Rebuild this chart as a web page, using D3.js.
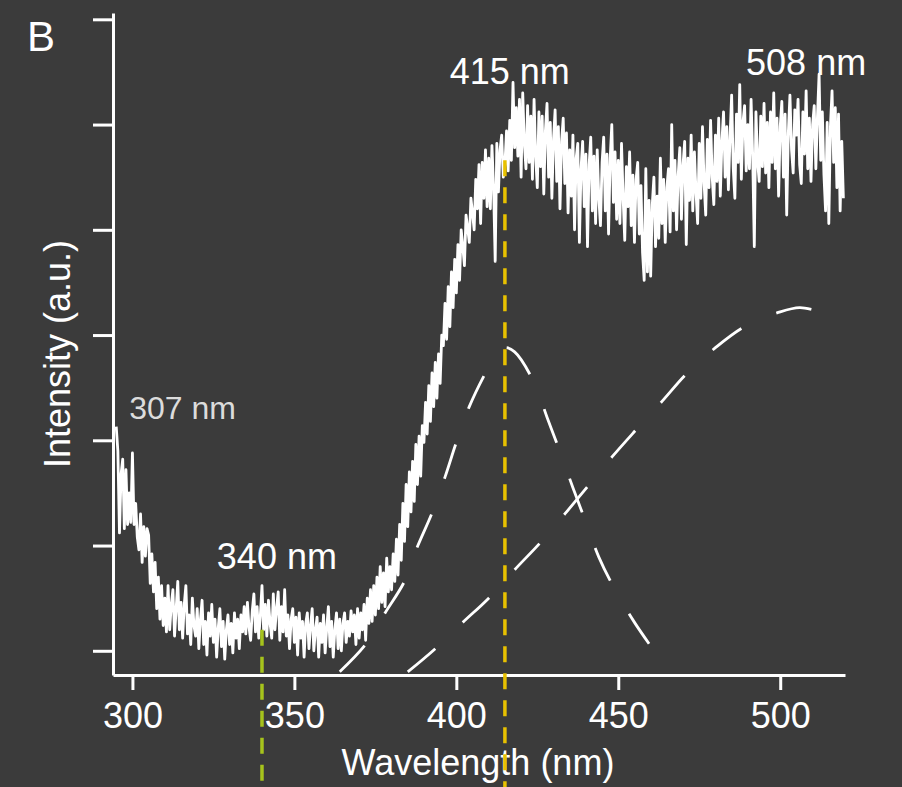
<!DOCTYPE html>
<html>
<head>
  <meta charset="utf-8">
  <title>Spectrum B</title>
  <script src="https://d3js.org/d3.v7.min.js"></script>
  <style>
    body { margin: 0; background: #3b3b3b; }
    text { font-family: "Liberation Sans", Arial, sans-serif; fill: #fff; }
    .axis path, .axis line { stroke: #fff; stroke-width: 3; }
  </style>
</head>
<body>
<script>
// spectrum sampled every 0.5 nm from 295 nm (intensity in a.u., tick = 100)
var startNm = 295;
var stepNm = 0.5;
var intensity = [
  213,190,112,168,182,116,172,120,150,122,
  188,120,140,108,96,130,84,118,90,116,
  110,64,92,56,84,40,70,30,62,24,
  50,18,62,20,44,58,14,40,66,20,
  46,12,44,62,16,34,6,50,24,14,
  40,2,30,48,6,28,-4,36,14,44,
  8,30,-6,22,40,4,28,-8,20,34,
  6,26,-2,36,12,30,2,34,18,42,
  16,46,22,10,38,54,18,42,12,34,
  62,20,44,14,48,26,12,54,20,40,
  56,10,42,18,58,14,34,2,30,40,
  8,32,-4,36,12,28,-6,26,36,2,
  24,40,0,20,32,-6,26,8,34,-2,
  22,42,4,28,-6,20,36,2,30,0,
  26,36,8,28,14,38,18,34,6,40,
  12,36,20,44,10,50,26,58,28,62,
  34,70,40,80,46,74,42,88,56,80,
  58,92,66,106,72,120,86,140,104,158,
  118,170,132,180,142,196,158,204,166,214,
  198,236,206,252,218,264,232,274,240,282,
  254,300,290,330,296,346,308,360,326,372,
  340,386,352,400,384,366,414,402,388,430,
  416,400,448,420,462,406,464,430,476,422,
  468,420,480,440,370,482,436,476,490,450,
  462,494,456,504,466,540,478,516,470,524,
  450,530,482,458,518,464,508,448,524,470,
  440,512,460,508,434,494,520,450,502,430,
  486,514,446,498,420,484,506,444,492,416,
  476,432,490,400,468,482,388,458,484,422,
  472,384,462,488,418,470,406,476,430,404,
  464,488,418,472,396,468,500,426,474,410,
  466,406,482,430,390,460,422,474,404,452,
  388,448,464,396,442,378,352,458,360,428,
  356,424,450,384,432,392,468,406,448,388,
  440,458,398,500,418,466,400,452,478,410,
  462,484,386,468,428,490,418,474,436,406,
  482,430,498,444,414,486,440,504,450,424,
  490,446,506,432,484,512,450,498,438,488,
  528,458,430,510,464,538,448,502,518,456,
  500,458,524,470,384,512,466,446,508,460,
  520,454,502,440,512,464,530,458,506,432,
  498,522,450,510,414,492,528,476,454,514,
  490,524,462,444,512,472,532,458,506,446,
  500,518,458,508,548,466,512,452,418,502,
  406,498,532,464,516,440,510,418,484,430
];

// fitted gaussian components [nm, intensity]
var fit415 = [[364,-20],[372,6],[378,36],[384,66],[388,99],[392.5,131],[396.5,165],
  [400,198],[404,232],[409,264],[412,280],[415,288],[418,284],[424,255],[428,222],
  [432,189],[436,155],[440,122],[444,89],[449,58],[455,27],[461.5,-2]];
var fit508 = [[385,-20],[393.5,2],[402,27],[410,50],[418,77],[426,103],[433.5,130],
  [440.5,156],[448,184],[455.5,210],[463.5,237],[471,263],[480,288],[489,308],
  [500,322],[506,326],[511.5,323]];

var xTicks = [300, 350, 400, 450, 500];
var yTicks = [0, 100, 200, 300, 400, 500, 600];

// marker lines [nm, top intensity]
var markers = [
  { nm: 340, top: 20, color: '#a6c31c' },
  { nm: 415, top: 466, color: '#e8c100' }
];
var peakLabels = [
  { text: '307 nm', nm: 299, v: 220, anchor: 'start', size: 32, color: '#dcdcdc' },
  { text: '340 nm', nm: 344.6, v: 78, anchor: 'middle', size: 36, color: '#fff' },
  { text: '415 nm', nm: 416.5, v: 539, anchor: 'middle', size: 36, color: '#fff' },
  { text: '508 nm', nm: 508, v: 547, anchor: 'middle', size: 36, color: '#fff' }
];

var W = 902, H = 787;
var svg = d3.select('body').append('svg').attr('width', W).attr('height', H);

var x = d3.scaleLinear().domain([294, 520]).range([113, 845]);
var y = d3.scaleLinear().domain([-23, 606]).range([675, 13]);

// axes
var xAxis = d3.axisBottom(x).tickValues(xTicks).tickSize(15).tickPadding(12).tickSizeOuter(0);
var gx = svg.append('g').attr('class', 'axis')
  .attr('transform', 'translate(0,' + y.range()[0] + ')')
  .call(xAxis);
gx.selectAll('text').attr('font-size', 36).attr('font-family', null).style('fill', '#fff');

var yAxis = d3.axisLeft(y).tickValues(yTicks).tickSize(20).tickFormat('').tickSizeOuter(0);
svg.append('g').attr('class', 'axis')
  .attr('transform', 'translate(' + x.range()[0] + ',0)')
  .call(yAxis);

// axis titles
svg.append('text')
  .attr('x', 478).attr('y', 775)
  .attr('text-anchor', 'middle').attr('font-size', 36)
  .text('Wavelength (nm)');
svg.append('text')
  .attr('transform', 'translate(70,354) rotate(-90)')
  .attr('text-anchor', 'middle').attr('font-size', 36)
  .text('Intensity (a.u.)');
svg.append('text')
  .attr('x', 27).attr('y', 51).attr('font-size', 42)
  .text('B');

// fit curves
var fitLine = d3.line()
  .x(function(d) { return x(d[0]); })
  .y(function(d) { return y(d[1]); })
  .curve(d3.curveCatmullRom.alpha(0.5));
[fit415, fit508].forEach(function(f) {
  svg.append('path')
    .attr('d', fitLine(f))
    .attr('fill', 'none')
    .attr('stroke', '#fff')
    .attr('stroke-width', 2.8)
    .attr('stroke-dasharray', '36,38');
});

// spectrum
var spectrum = intensity.map(function(v, i) { return [startNm + i * stepNm, v]; });
var line = d3.line()
  .x(function(d) { return x(d[0]); })
  .y(function(d) { return y(d[1]); });
svg.append('path')
  .attr('d', line(spectrum))
  .attr('fill', 'none')
  .attr('stroke', '#fff')
  .attr('stroke-width', 2.8)
  .attr('stroke-linejoin', 'round');

// marker lines
svg.selectAll('.marker').data(markers).enter().append('line')
  .attr('class', 'marker')
  .attr('x1', function(d) { return x(d.nm); })
  .attr('x2', function(d) { return x(d.nm); })
  .attr('y1', function(d) { return y(d.top); })
  .attr('y2', H)
  .attr('stroke', function(d) { return d.color; })
  .attr('stroke-width', 3.5)
  .attr('stroke-dasharray', '16,11');

// peak labels
svg.selectAll('.peak').data(peakLabels).enter().append('text')
  .attr('class', 'peak')
  .attr('x', function(d) { return x(d.nm); })
  .attr('y', function(d) { return y(d.v); })
  .attr('text-anchor', function(d) { return d.anchor; })
  .attr('font-size', function(d) { return d.size; })
  .style('fill', function(d) { return d.color; })
  .text(function(d) { return d.text; });
</script>
</body>
</html>
